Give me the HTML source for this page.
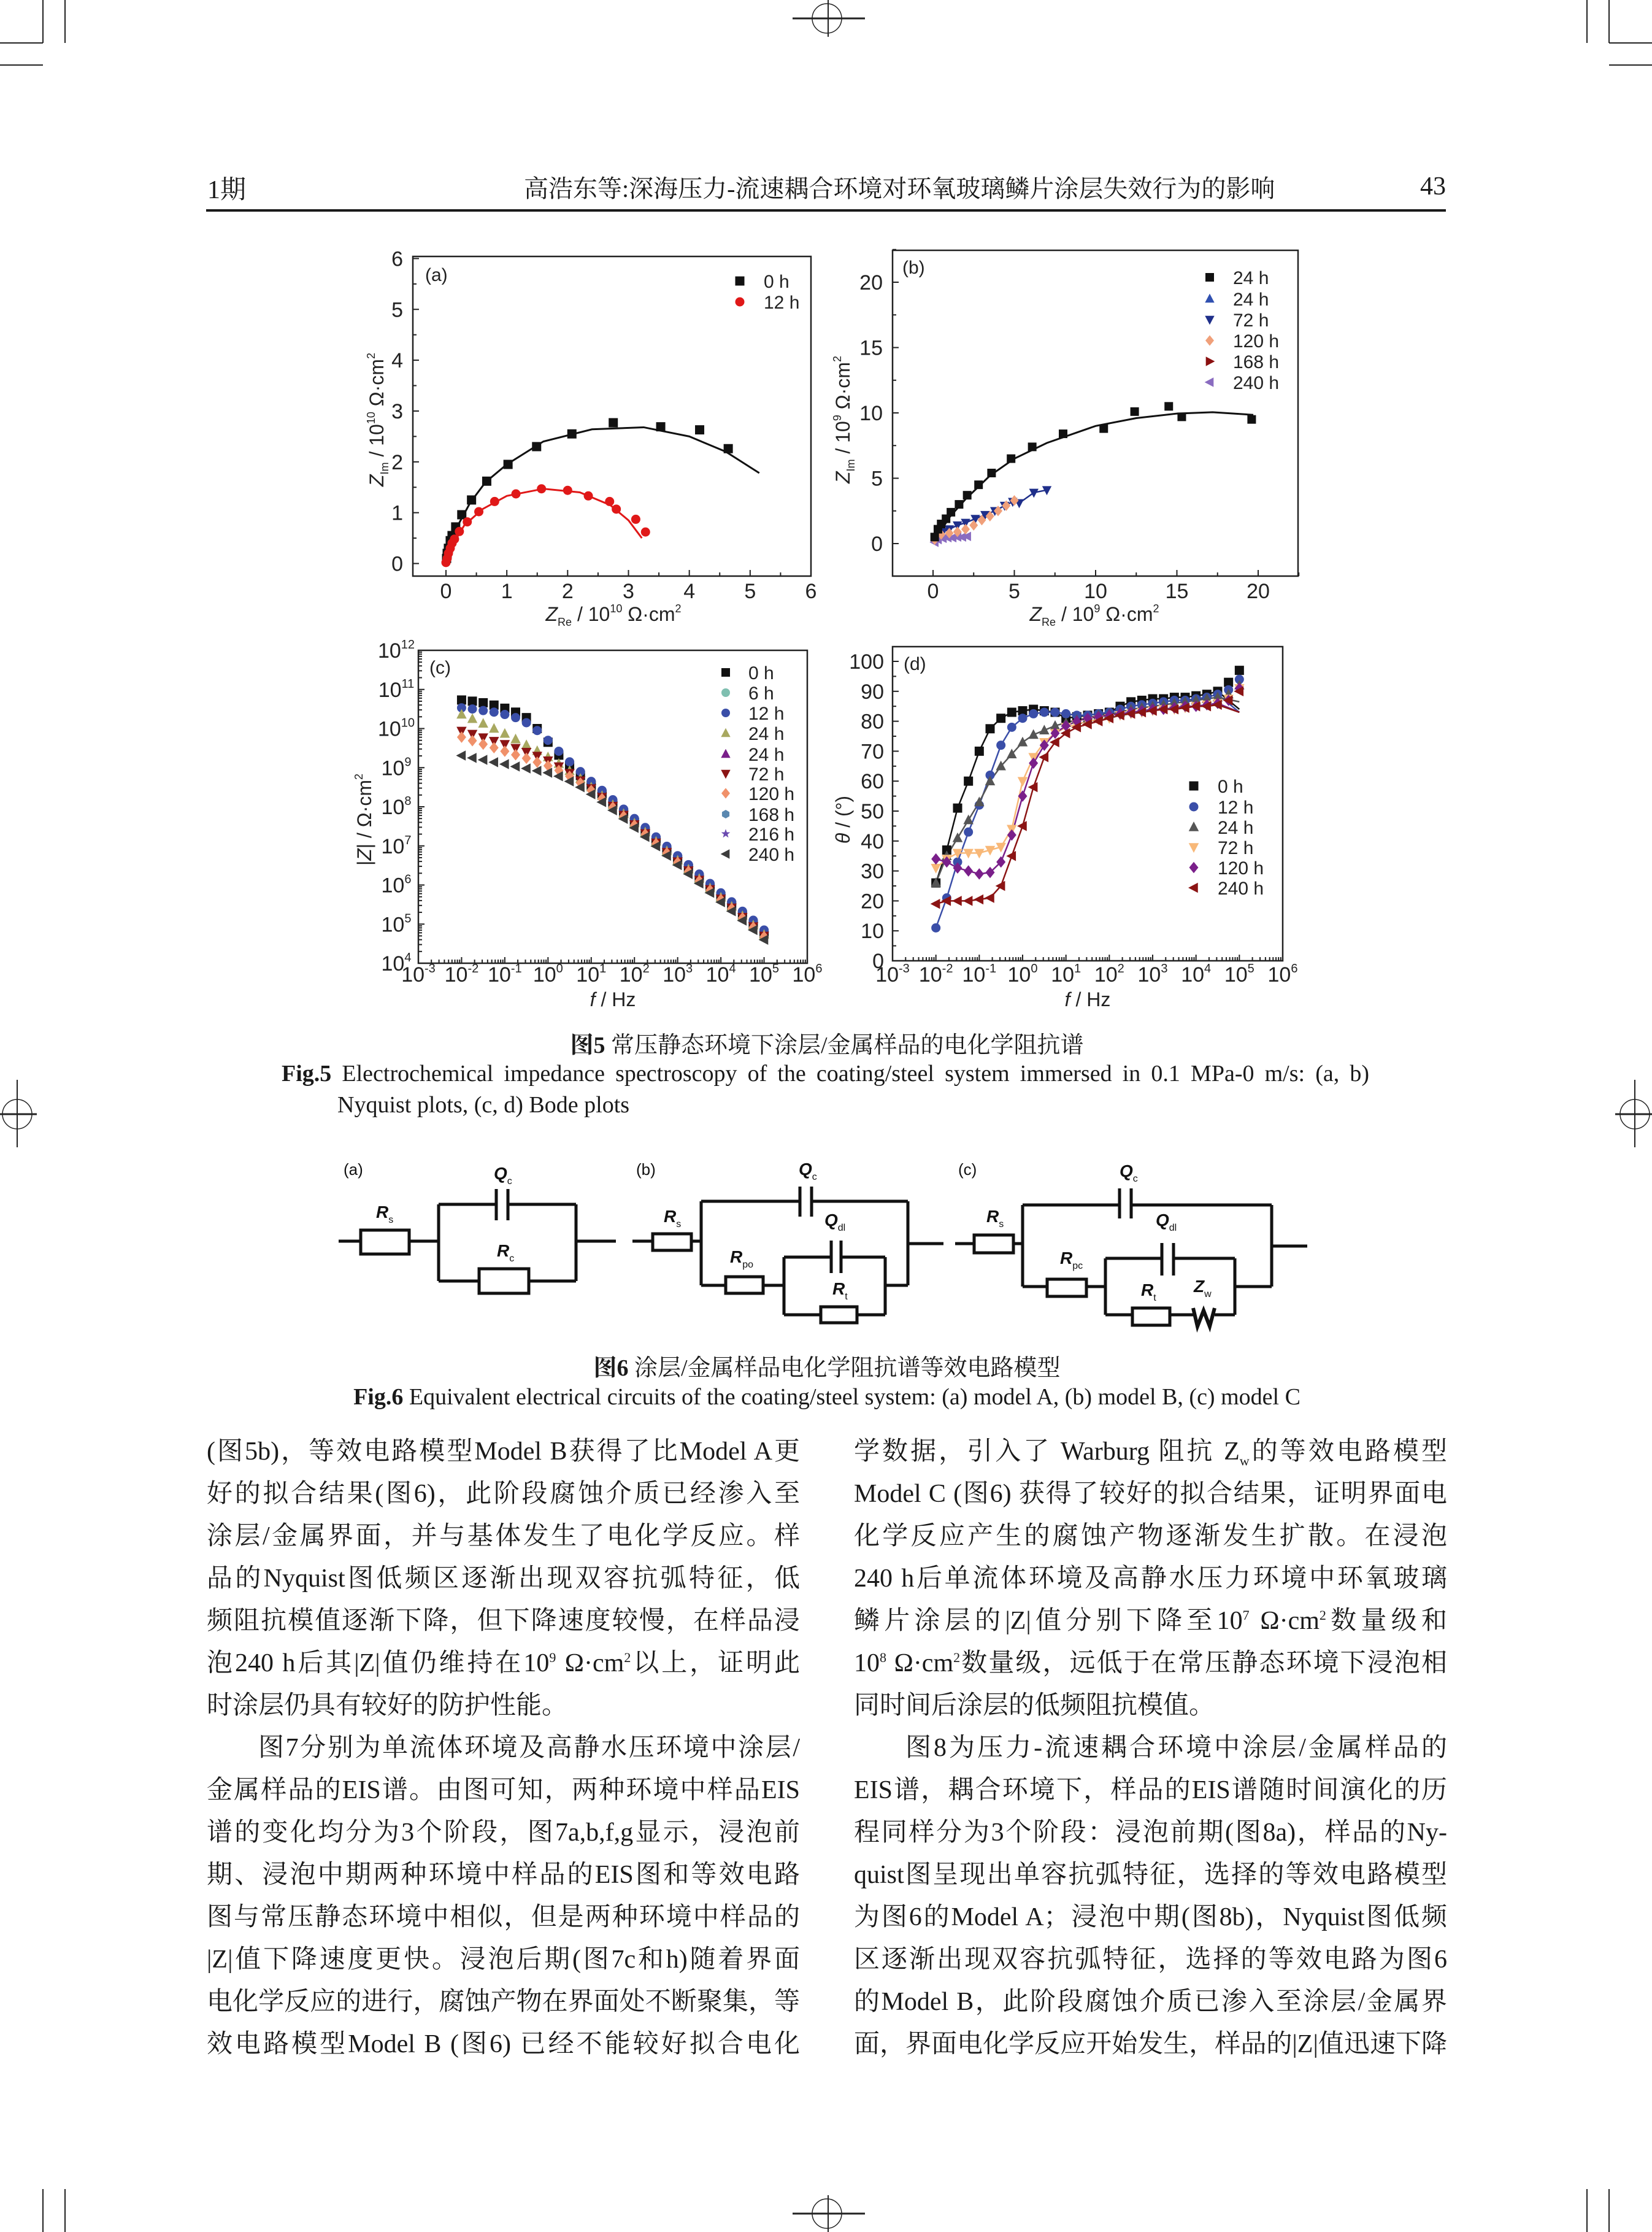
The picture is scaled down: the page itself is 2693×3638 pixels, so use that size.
<!DOCTYPE html>
<html><head><meta charset="utf-8">
<style>
html,body{margin:0;padding:0;background:#fff}
body{width:2693px;height:3638px;position:relative;overflow:hidden;color:#1a1a1a}
.t{position:absolute;white-space:nowrap;font-family:"Liberation Serif","Noto Serif CJK SC",serif}
.bl{position:absolute;height:69px;line-height:69px;font-size:42px;white-space:nowrap;text-align:justify;text-align-last:justify;font-family:"Liberation Serif","Noto Serif CJK SC",serif}
.nl{text-align-last:left}
#figs{position:absolute;left:0;top:0}
</style></head>
<body>

<svg width="2693" height="3638" style="position:absolute;left:0;top:0">
 <g stroke="#222" stroke-width="2" fill="none">
  <line x1="70" y1="0" x2="70" y2="70"/><line x1="0" y1="70" x2="70" y2="70"/>
  <line x1="106" y1="0" x2="106" y2="70"/><line x1="0" y1="106" x2="70" y2="106"/>
  <line x1="2623" y1="0" x2="2623" y2="70"/><line x1="2623" y1="70" x2="2693" y2="70"/>
  <line x1="2587" y1="0" x2="2587" y2="70"/><line x1="2623" y1="106" x2="2693" y2="106"/>
  <line x1="70" y1="3568" x2="70" y2="3638"/><line x1="106" y1="3568" x2="106" y2="3638"/>
  <line x1="2623" y1="3568" x2="2623" y2="3638"/><line x1="2587" y1="3568" x2="2587" y2="3638"/>
  <circle cx="1348" cy="30" r="24" stroke-width="1.5"/><line x1="1292" y1="30" x2="1410" y2="30" stroke-width="3"/><line x1="1350" y1="0" x2="1350" y2="60"/>
  <circle cx="1348" cy="3608" r="24" stroke-width="1.5"/><line x1="1292" y1="3608" x2="1410" y2="3608" stroke-width="3"/><line x1="1350" y1="3578" x2="1350" y2="3638"/>
  <circle cx="28" cy="1816" r="24" stroke-width="1.5"/><line x1="0" y1="1816" x2="60" y2="1816" stroke-width="3"/><line x1="28" y1="1760" x2="28" y2="1870"/>
  <circle cx="2665" cy="1816" r="24" stroke-width="1.5"/><line x1="2633" y1="1816" x2="2693" y2="1816" stroke-width="3"/><line x1="2665" y1="1760" x2="2665" y2="1870"/>
 </g>
</svg>

<div class="t" style="left:338px;top:276px;font-size:42px">1期</div>
<div class="t" style="left:854px;top:276px;width:1152px;text-align:center;font-size:40px">高浩东等:深海压力-流速耦合环境对环氧玻璃鳞片涂层失效行为的影响</div>
<div class="t" style="left:2300px;top:280px;width:57px;text-align:right;font-size:42px">43</div>
<div style="position:absolute;left:336px;top:341px;width:2021px;height:4px;background:#1a1a1a"></div>

<svg id="figs" width="2693" height="3638"></svg>

<div class="t" style="left:548px;top:1672px;width:1600px;text-align:center;font-size:38px"><b>图5</b> 常压静态环境下涂层/金属样品的电化学阻抗谱</div>
<div class="t" style="left:459px;top:1728px;width:1773px;text-align:justify;text-align-last:justify;font-size:38px"><b>Fig.5</b> Electrochemical impedance spectroscopy of the coating/steel system immersed in 0.1 MPa-0 m/s: (a, b)</div>
<div class="t" style="left:550px;top:1779px;font-size:38px">Nyquist plots, (c, d) Bode plots</div>

<svg width="2693" height="3638" style="position:absolute;left:0;top:0;pointer-events:none">
 <g fill="none" stroke="#111" stroke-width="5" font-family="Liberation Sans, sans-serif">
  <g>
   <text x="560" y="1915" font-size="26" fill="#111" stroke="none">(a)</text>
   <path d="M552 2023H588M667 2023H715M715 1963V2088M715 1963H809M828 1963H939M939 1963V2088M715 2088H781M862 2088H939M939 2023H1004"/>
   <rect x="588" y="2005" width="79" height="39"/>
   <line x1="809" y1="1938" x2="809" y2="1989"/><line x1="828" y1="1938" x2="828" y2="1989"/>
   <rect x="781" y="2068" width="81" height="40"/>
   <g fill="#111" stroke="none" font-style="italic" font-weight="bold" font-size="28">
    <text x="805" y="1922">Q<tspan font-size="16" dy="8" font-weight="normal" font-style="normal">c</tspan></text>
    <text x="613" y="1985">R<tspan font-size="16" dy="8" font-weight="normal" font-style="normal">s</tspan></text>
    <text x="810" y="2048">R<tspan font-size="16" dy="8" font-weight="normal" font-style="normal">c</tspan></text>
   </g>
  </g>
  <g>
   <text x="1037" y="1915" font-size="26" fill="#111" stroke="none">(b)</text>
   <path d="M1031 2023H1064M1127 2023H1143M1143 1958V2095M1143 1958H1304M1323 1958H1480M1480 1958V2095M1480 2027H1538M1143 2095H1183M1244 2095H1278M1278 2049V2143M1278 2049H1355M1371 2049H1443M1443 2049V2143M1278 2143H1338M1397 2143H1443M1443 2095H1480"/>
   <rect x="1064" y="2011" width="63" height="27"/>
   <line x1="1304" y1="1934" x2="1304" y2="1983"/><line x1="1323" y1="1934" x2="1323" y2="1983"/>
   <rect x="1183" y="2081" width="61" height="27"/>
   <line x1="1355" y1="2022" x2="1355" y2="2075"/><line x1="1371" y1="2022" x2="1371" y2="2075"/>
   <rect x="1338" y="2130" width="59" height="26"/>
   <g fill="#111" stroke="none" font-style="italic" font-weight="bold" font-size="28">
    <text x="1302" y="1915">Q<tspan font-size="16" dy="8" font-weight="normal" font-style="normal">c</tspan></text>
    <text x="1082" y="1992">R<tspan font-size="16" dy="8" font-weight="normal" font-style="normal">s</tspan></text>
    <text x="1344" y="1998">Q<tspan font-size="16" dy="8" font-weight="normal" font-style="normal">dl</tspan></text>
    <text x="1190" y="2058">R<tspan font-size="16" dy="8" font-weight="normal" font-style="normal">po</tspan></text>
    <text x="1357" y="2110">R<tspan font-size="16" dy="8" font-weight="normal" font-style="normal">t</tspan></text>
   </g>
  </g>
  <g>
   <text x="1562" y="1915" font-size="26" fill="#111" stroke="none">(c)</text>
   <path d="M1557 2027H1588M1652 2027H1667M1667 1964V2097M1667 1964H1825M1844 1964H2073M2073 1964V2097M2073 2031H2131M1667 2097H1707M1771 2097H1802M1802 2051V2143M1802 2051H1894M1913 2051H2013M2013 2051V2143M1802 2143H1846M1907 2143H1945M1980 2143H2013M2013 2097H2073"/>
   <rect x="1588" y="2013" width="64" height="29"/>
   <line x1="1825" y1="1937" x2="1825" y2="1986"/><line x1="1844" y1="1937" x2="1844" y2="1986"/>
   <rect x="1707" y="2085" width="64" height="28"/>
   <line x1="1894" y1="2026" x2="1894" y2="2079"/><line x1="1913" y1="2026" x2="1913" y2="2079"/>
   <rect x="1846" y="2132" width="61" height="28"/>
   <path d="M1945 2132L1952 2162L1962 2136L1972 2162L1980 2132" stroke-width="6"/>
   <g fill="#111" stroke="none" font-style="italic" font-weight="bold" font-size="28">
    <text x="1825" y="1918">Q<tspan font-size="16" dy="8" font-weight="normal" font-style="normal">c</tspan></text>
    <text x="1608" y="1992">R<tspan font-size="16" dy="8" font-weight="normal" font-style="normal">s</tspan></text>
    <text x="1884" y="1998">Q<tspan font-size="16" dy="8" font-weight="normal" font-style="normal">dl</tspan></text>
    <text x="1728" y="2060">R<tspan font-size="16" dy="8" font-weight="normal" font-style="normal">pc</tspan></text>
    <text x="1860" y="2112">R<tspan font-size="16" dy="8" font-weight="normal" font-style="normal">t</tspan></text>
    <text x="1946" y="2106">Z<tspan font-size="16" dy="8" font-weight="normal" font-style="normal">w</tspan></text>
   </g>
  </g>
 </g>
</svg>

<div class="t" style="left:548px;top:2198px;width:1600px;text-align:center;font-size:38px"><b>图6</b> 涂层/金属样品电化学阻抗谱等效电路模型</div>
<div class="t" style="left:548px;top:2255px;width:1600px;text-align:center;font-size:38px"><b>Fig.6</b> Equivalent electrical circuits of the coating/steel system: (a) model A, (b) model B, (c) model C</div>

<div>
<div class="bl" style="left:337px;top:2332px;width:967px">(图5b)，等效电路模型Model B获得了比Model A更</div>
<div class="bl" style="left:337px;top:2401px;width:967px">好的拟合结果(图6)，此阶段腐蚀介质已经渗入至</div>
<div class="bl" style="left:337px;top:2470px;width:967px">涂层/金属界面，并与基体发生了电化学反应。样</div>
<div class="bl" style="left:337px;top:2539px;width:967px">品的Nyquist图低频区逐渐出现双容抗弧特征，低</div>
<div class="bl" style="left:337px;top:2608px;width:967px">频阻抗模值逐渐下降，但下降速度较慢，在样品浸</div>
<div class="bl" style="left:337px;top:2677px;width:967px">泡240 h后其|Z|值仍维持在10<sup style="font-size:22px;line-height:0">9</sup> Ω·cm<sup style="font-size:22px;line-height:0">2</sup>以上，证明此</div>
<div class="bl nl" style="left:337px;top:2746px;width:967px">时涂层仍具有较好的防护性能。</div>
<div class="bl" style="left:421px;top:2815px;width:883px">图7分别为单流体环境及高静水压环境中涂层/</div>
<div class="bl" style="left:337px;top:2884px;width:967px">金属样品的EIS谱。由图可知，两种环境中样品EIS</div>
<div class="bl" style="left:337px;top:2953px;width:967px">谱的变化均分为3个阶段，图7a,b,f,g显示，浸泡前</div>
<div class="bl" style="left:337px;top:3022px;width:967px">期、浸泡中期两种环境中样品的EIS图和等效电路</div>
<div class="bl" style="left:337px;top:3091px;width:967px">图与常压静态环境中相似，但是两种环境中样品的</div>
<div class="bl" style="left:337px;top:3160px;width:967px">|Z|值下降速度更快。浸泡后期(图7c和h)随着界面</div>
<div class="bl" style="left:337px;top:3229px;width:967px">电化学反应的进行，腐蚀产物在界面处不断聚集，等</div>
<div class="bl" style="left:337px;top:3298px;width:967px">效电路模型Model B (图6) 已经不能较好拟合电化</div>
</div>
<div>
<div class="bl" style="left:1392px;top:2332px;width:967px">学数据，引入了 Warburg 阻抗 Z<sub style="font-size:22px;line-height:0">w</sub>的等效电路模型</div>
<div class="bl" style="left:1392px;top:2401px;width:967px">Model C (图6) 获得了较好的拟合结果，证明界面电</div>
<div class="bl" style="left:1392px;top:2470px;width:967px">化学反应产生的腐蚀产物逐渐发生扩散。在浸泡</div>
<div class="bl" style="left:1392px;top:2539px;width:967px">240 h后单流体环境及高静水压力环境中环氧玻璃</div>
<div class="bl" style="left:1392px;top:2608px;width:967px">鳞片涂层的|Z|值分别下降至10<sup style="font-size:22px;line-height:0">7</sup> Ω·cm<sup style="font-size:22px;line-height:0">2</sup>数量级和</div>
<div class="bl" style="left:1392px;top:2677px;width:967px">10<sup style="font-size:22px;line-height:0">8</sup> Ω·cm<sup style="font-size:22px;line-height:0">2</sup>数量级，远低于在常压静态环境下浸泡相</div>
<div class="bl nl" style="left:1392px;top:2746px;width:967px">同时间后涂层的低频阻抗模值。</div>
<div class="bl" style="left:1476px;top:2815px;width:883px">图8为压力-流速耦合环境中涂层/金属样品的</div>
<div class="bl" style="left:1392px;top:2884px;width:967px">EIS谱，耦合环境下，样品的EIS谱随时间演化的历</div>
<div class="bl" style="left:1392px;top:2953px;width:967px">程同样分为3个阶段：浸泡前期(图8a)，样品的Ny-</div>
<div class="bl" style="left:1392px;top:3022px;width:967px">quist图呈现出单容抗弧特征，选择的等效电路模型</div>
<div class="bl" style="left:1392px;top:3091px;width:967px">为图6的Model A；浸泡中期(图8b)，Nyquist图低频</div>
<div class="bl" style="left:1392px;top:3160px;width:967px">区逐渐出现双容抗弧特征，选择的等效电路为图6</div>
<div class="bl" style="left:1392px;top:3229px;width:967px">的Model B，此阶段腐蚀介质已渗入至涂层/金属界</div>
<div class="bl" style="left:1392px;top:3298px;width:967px">面，界面电化学反应开始发生，样品的|Z|值迅速下降</div>
</div>

<script>
// ---------- Panel (a) data ----------
const aRe0=[0.01,0.02,0.04,0.07,0.1,0.16,0.26,0.42,0.67,1.02,1.49,2.07,2.75,3.53,4.17,4.64];
const aIm0=[0.1,0.2,0.3,0.45,0.55,0.72,0.96,1.25,1.62,1.95,2.3,2.55,2.77,2.69,2.63,2.26];
const aFitRe0=[0,0.05,0.15,0.4,0.65,1.0,1.6,2.4,3.25,4.0,4.6,5.15];
const aFitIm0=[0,0.35,0.65,1.2,1.6,1.95,2.4,2.64,2.68,2.5,2.2,1.78];
const aRe12=[0.0,0.02,0.04,0.07,0.1,0.14,0.22,0.35,0.54,0.8,1.15,1.57,2.0,2.34,2.69,2.8,3.12,3.28];
const aIm12=[0.02,0.1,0.2,0.3,0.4,0.48,0.63,0.82,1.02,1.22,1.37,1.47,1.44,1.33,1.22,1.07,0.87,0.62];
const aFitRe12=[0,0.1,0.3,0.6,1.0,1.6,2.2,2.7,3.0,3.22];
const aFitIm12=[0,0.35,0.75,1.07,1.33,1.47,1.4,1.15,0.85,0.5];
const aTicks=[0,1,2,3,4,5,6];
// ---------- Panel (b) data ----------
const bRe24=[0.1,0.3,0.5,0.8,1.1,1.6,2.1,2.8,3.6,4.8,6.1,8.0,10.5,12.4,14.5,15.3,19.6];
const bIm24=[0.5,1.1,1.5,1.9,2.4,3.0,3.7,4.5,5.4,6.5,7.4,8.4,8.8,10.1,10.5,9.7,9.5];
const bFitRe24=[0,1,2,3.5,5,7,10,12.5,15,17.2,19.7];
const bFitIm24=[0,2,3.4,5.2,6.5,7.7,9,9.6,9.95,10.05,9.85];
const bRe72=[0.2,0.6,1.0,1.5,2.0,2.6,3.2,3.8,4.4,4.9,5.3,6.2,7.0];
const bIm72=[0.5,0.9,1.1,1.4,1.6,1.9,2.2,2.5,2.9,3.2,3.1,3.9,4.1];
const bRe120=[0.1,0.5,1.0,1.5,2.0,2.5,3.0,3.5,4.0,4.5,5.0];
const bIm120=[0.3,0.7,0.8,0.9,1.1,1.4,1.8,2.1,2.5,2.9,3.3];
const bRe240=[0.1,0.3,0.6,0.9,1.2,1.5,1.8,2.1];
const bIm240=[0.1,0.3,0.4,0.45,0.45,0.5,0.5,0.55];
const bXTicks=[0,5,10,15,20];
const bYTicks=[0,5,10,15,20];
// ---------- Panel (c)/(d) shared frequency exponents ----------
const logF=[-2,-1.75,-1.5,-1.25,-1,-0.75,-0.5,-0.25,0,0.25,0.5,0.75,1,1.25,1.5,1.75,2,2.25,2.5,2.75,3,3.25,3.5,3.75,4,4.25,4.5,4.75,5];
// |Z| (log10) panel c
const cZ0=[10.73,10.7,10.66,10.6,10.52,10.42,10.28,10.0,9.65,9.32,9.05,8.8,8.55,8.32,8.08,7.84,7.6,7.37,7.13,6.89,6.65,6.42,6.18,5.94,5.7,5.47,5.23,5.0,4.75];
const cZ12=[10.53,10.5,10.46,10.42,10.36,10.28,10.15,9.95,9.7,9.42,9.15,8.9,8.65,8.42,8.18,7.94,7.7,7.47,7.23,6.99,6.75,6.52,6.28,6.04,5.8,5.57,5.33,5.1,4.85];
const cZ24=[10.36,10.25,10.13,10.0,9.87,9.73,9.58,9.43,9.27,9.1,8.92,8.72,8.5,8.28,8.05,7.82,7.58,7.35,7.11,6.87,6.63,6.4,6.16,5.92,5.68,5.45,5.21,4.97,4.73];
const cZ72=[9.94,9.86,9.77,9.68,9.6,9.5,9.4,9.3,9.18,9.03,8.86,8.67,8.47,8.25,8.02,7.79,7.55,7.32,7.08,6.84,6.6,6.37,6.13,5.89,5.65,5.42,5.18,4.94,4.7];
const cZ120=[9.78,9.69,9.6,9.51,9.42,9.33,9.24,9.14,9.05,8.93,8.78,8.61,8.42,8.21,7.99,7.76,7.53,7.3,7.06,6.82,6.58,6.35,6.11,5.87,5.63,5.4,5.16,4.92,4.68];
const cZ240=[9.31,9.25,9.2,9.14,9.09,9.03,8.98,8.92,8.87,8.78,8.65,8.5,8.32,8.12,7.91,7.69,7.46,7.23,6.99,6.75,6.51,6.28,6.04,5.8,5.56,5.33,5.09,4.85,4.6];
const cLegend=["0 h","6 h","12 h","24 h","24 h","72 h","120 h","168 h","216 h","240 h"];
// phase panel d
const dP0=[26,37,51,60,70,77.5,81,83,83.5,84,83.5,83,81,81.5,82,82.5,83,85,86.5,87,87.5,87.5,88,88,88.5,89,90,93,97];
const dP12=[11,21,33,43,52,62,72,78,81,82.5,83,83,82.5,82,82,82.5,83,84,85,85.5,86,86.5,87,87,87.5,88,89,90.5,94];
const dP24=[26,35,41,47,53,60,65,69,73,75.5,77,78.5,79.5,80.5,81,82,82.5,83,84,84.5,85,85.5,86,86.5,87,87.5,88,89,92];
const dP72=[31,34,36,36,36,37,38,44,60,68,73,76,78,79,80,80.5,81,82,82.5,83,83.5,84,84,84.5,85,85.5,86,87.5,91];
const dP120=[34,33,31,30,29,29.5,33,42,55,66,72,76,78.5,80,81,81.5,82,82.5,83,83.5,84,84,84.5,85,85,85.5,86,87,91];
const dP240=[19,20,20,20,20.5,21,25,35,45,58,68,73,76,78,79,80,81,82,82.5,83,83.5,84,84,84.5,85,85,85.5,87,90];
const dFitEnd=[84,83,86.5,83,83,83];
const dLegend=["0 h","12 h","24 h","72 h","120 h","240 h"];
const dYTicks=[0,10,20,30,40,50,60,70,80,90,100];
const decTicks=[-3,-2,-1,0,1,2,3,4,5,6];
const cYTicks=[4,5,6,7,8,9,10,11,12];

const NS='http://www.w3.org/2000/svg';
const svg=document.getElementById('figs');
function mk(tag,parent,a){const e=document.createElementNS(NS,tag);for(const k in a)e.setAttribute(k,a[k]);parent.appendChild(e);return e;}
function lin(d0,d1,p0,p1){return v=>p0+(v-d0)*(p1-p0)/(d1-d0);}
function marker(p,type,x,y,s,c){
  let e;const h=s/2;
  if(type==='square')e=mk('rect',p,{x:x-h,y:y-h,width:s,height:s,fill:c});
  else if(type==='circle')e=mk('circle',p,{cx:x,cy:y,r:h,fill:c});
  else{let pts;
    if(type==='up')pts=[[x,y-s*.6],[x+s*.55,y+s*.45],[x-s*.55,y+s*.45]];
    else if(type==='down')pts=[[x,y+s*.6],[x+s*.55,y-s*.45],[x-s*.55,y-s*.45]];
    else if(type==='diamond')pts=[[x,y-s*.62],[x+s*.5,y],[x,y+s*.62],[x-s*.5,y]];
    else if(type==='right')pts=[[x-s*.45,y-s*.55],[x+s*.6,y],[x-s*.45,y+s*.55]];
    else if(type==='left')pts=[[x+s*.45,y-s*.55],[x-s*.6,y],[x+s*.45,y+s*.55]];
    else if(type==='hex'){pts=[];for(let i=0;i<6;i++){const a=Math.PI/3*i+Math.PI/6;pts.push([x+h*Math.cos(a),y+h*Math.sin(a)]);}}
    else {pts=[];for(let i=0;i<10;i++){const r=i%2?h*0.45:h*1.1,a=-Math.PI/2+Math.PI/5*i;pts.push([x+r*Math.cos(a),y+r*Math.sin(a)]);}}
    e=mk('polygon',p,{points:pts.map(q=>q.join(',')).join(' '),fill:c});}
  return e;
}
function frame(g,b){
  const r=mk('rect',g,{x:b.l,y:b.t,width:b.r-b.l,height:b.b-b.t,fill:'none',stroke:'#222','stroke-width':2.5});
  
  
}
function txt(g,x,y,s,size,anchor,extra){const t=mk('text',g,Object.assign({x:x,y:y,'font-size':size,'text-anchor':anchor||'middle','font-family':'Liberation Sans, sans-serif',fill:'#222'},extra||{}));t.textContent=s;return t;}
function tick(g,x1,y1,x2,y2){mk('line',g,{x1:x1,y1:y1,x2:x2,y2:y2,stroke:'#222','stroke-width':2});}
function poly(g,xs,ys,X,Y,c,w){return mk('polyline',g,{points:X.map((v,i)=>xs(v)+','+ys(Y[i])).join(' '),fill:'none',stroke:c,'stroke-width':w||3});}
function pow10(g,x,y,e){const t=mk('text',g,{x:x,y:y,'font-size':34,'text-anchor':'middle','font-family':'Liberation Sans, sans-serif',fill:'#222'});
  const a=mk('tspan',t,{});a.textContent='10';const b=mk('tspan',t,{'font-size':20,dy:-15});b.textContent=String(e);return t;}
function ylab(g,x,y,parts){const t=mk('text',g,{x:0,y:0,'font-size':32,'text-anchor':'middle','font-family':'Liberation Sans, sans-serif',fill:'#222',transform:'translate('+x+','+y+') rotate(-90)'});
  parts.forEach(p=>{const s=mk('tspan',t,p[1]||{});s.textContent=p[0];});return t;}

// ===== Panel a =====
{
const g=mk('g',svg,{});


const b={l:673,r:1322,t:418,b:939};
const xs=lin(0,6,727,1322), ys=lin(0,6,918.5,421.4);
frame(g,b);
aTicks.forEach(v=>{tick(g,xs(v),b.b,xs(v),b.b-10);tick(g,b.l,ys(v),b.l+10,ys(v));
  if(v<6){tick(g,xs(v+.5),b.b,xs(v+.5),b.b-6);tick(g,b.l,ys(v+.5),b.l+6,ys(v+.5));}
  const tx=txt(g,xs(v),975,String(v),34);
  const ty=txt(g,b.l-16,ys(v)+12,String(v),34,'end');});
const f0=poly(g,xs,ys,aFitRe0,aFitIm0,'#111');
const f12=poly(g,xs,ys,aFitRe12,aFitIm12,'#e01818');
aRe0.forEach((v,i)=>{const m=marker(g,'square',xs(v),ys(aIm0[i]),15,'#111');});
aRe12.forEach((v,i)=>{const m=marker(g,'circle',xs(v),ys(aIm12[i]),15,'#e01818');});
const pl=txt(g,b.l+20,b.t+40,'(a)',30,'start');
let m=marker(g,'square',1206,458,15,'#111');
let t=txt(g,1245,469,'0 h',30,'start');
m=marker(g,'circle',1206,492,15,'#e01818');
t=txt(g,1245,503,'12 h',30,'start');
t=ylab(g,625,684,[['Z',{'font-style':'italic'}],['Im',{'font-size':18,dy:8}],[' / 10',{dy:-8}],['10',{'font-size':18,dy:-14}],[' Ω·cm',{dy:14}],['2',{'font-size':18,dy:-14}]]);

t=mk('text',g,{x:1000,y:1012,'font-size':32,'text-anchor':'middle','font-family':'Liberation Sans, sans-serif',fill:'#222'});
[['Z',{'font-style':'italic'}],['Re',{'font-size':18,dy:8}],[' / 10',{dy:-8}],['10',{'font-size':18,dy:-14}],[' Ω·cm',{dy:14}],['2',{'font-size':18,dy:-14}]].forEach(p=>{const s=mk('tspan',t,p[1]);s.textContent=p[0];});

}
// ===== Panel b =====
{
const g=mk('g',svg,{});


const b={l:1455,r:2116,t:408,b:939};
const xs=lin(0,20,1521,2051), ys=lin(0,20,886,460);
frame(g,b);
bXTicks.forEach(v=>{tick(g,xs(v),b.b,xs(v),b.b-10);tick(g,xs(v+2.5),b.b,xs(v+2.5),b.b-6);
  const tx=txt(g,xs(v),975,String(v),34);});
bYTicks.forEach(v=>{tick(g,b.l,ys(v),b.l+10,ys(v));tick(g,b.l,ys(v+2.5),b.l+6,ys(v+2.5));
  const ty=txt(g,b.l-16,ys(v)+12,String(v),34,'end');});
const f=poly(g,xs,ys,bFitRe24,bFitIm24,'#111');
const f72=poly(g,xs,ys,bRe72,bIm72,'#1f2f8a',2.5);
bRe240.forEach((v,i)=>{const m=marker(g,'left',xs(v),ys(bIm240[i]),14,'#8a6cc0');});
bRe72.forEach((v,i)=>{const m=marker(g,'down',xs(v),ys(bIm72[i]),14,'#1f2f8a');});
bRe120.forEach((v,i)=>{const m=marker(g,'diamond',xs(v),ys(bIm120[i]),14,'#f0a07a');});
bRe24.forEach((v,i)=>{const m=marker(g,'square',xs(v),ys(bIm24[i]),14,'#111');});
const pl=txt(g,b.l+16,b.t+38,'(b)',30,'start');
const bl=[['square','#111','24 h'],['up','#3050b0','24 h'],['down','#1f2f8a','72 h'],['diamond','#f0a07a','120 h'],['right','#8b1010','168 h'],['left','#8a6cc0','240 h']];
const by=[452,487,521,555,589,623];
bl.forEach((L,i)=>{const m=marker(g,L[0],1972,by[i],14,L[1]);
  const t=txt(g,2010,by[i]+11,L[2],30,'start');});
let t=ylab(g,1385,684,[['Z',{'font-style':'italic'}],['Im',{'font-size':18,dy:8}],[' / 10',{dy:-8}],['9',{'font-size':18,dy:-14}],[' Ω·cm',{dy:14}],['2',{'font-size':18,dy:-14}]]);

t=mk('text',g,{x:1784,y:1012,'font-size':32,'text-anchor':'middle','font-family':'Liberation Sans, sans-serif',fill:'#222'});
[['Z',{'font-style':'italic'}],['Re',{'font-size':18,dy:8}],[' / 10',{dy:-8}],['9',{'font-size':18,dy:-14}],[' Ω·cm',{dy:14}],['2',{'font-size':18,dy:-14}]].forEach(p=>{const s=mk('tspan',t,p[1]);s.textContent=p[0];});

}
function logXTicks(g,b,xs){
  decTicks.forEach(d=>{tick(g,xs(d),b.b,xs(d),b.b-10);
    const t=pow10(g,xs(d),1600,d);
    if(d<6)for(let k=2;k<10;k++){const x=xs(d+Math.log10(k));tick(g,x,b.b,x,b.b-6);}});
}
// ===== Panel c =====
{
const g=mk('g',svg,{});


const b={l:682,r:1316,t:1060,b:1570};
const xs=lin(-3,6,682,1316), ys=lin(4,12,1570,1060);
frame(g,b);
logXTicks(g,b,xs);
cYTicks.forEach(d=>{tick(g,b.l,ys(d),b.l+10,ys(d));
  const t=pow10(g,b.l-36,ys(d)+12,d);
  if(d<12)for(let k=2;k<10;k++){const y=ys(d+Math.log10(k));tick(g,b.l,y,b.l+6,y);}});
const S=[[cZ0,'square','#111','0h'],[cZ12,'circle','#3a4ea8','12h'],[cZ24,'up','#a8a860','24h'],[cZ72,'down','#8b1414','72h'],[cZ120,'diamond','#f0916a','120h'],[cZ240,'left','#3c3c3c','240h']];
S.forEach(s=>{logF.forEach((f,i)=>{const m=marker(g,s[1],xs(f),ys(s[0][i]),15,s[2]);});});
const pl=txt(g,b.l+18,b.t+38,'(c)',30,'start');
const lm=[['square','#111'],['circle','#7fbfb0'],['circle','#3a4ea8'],['up','#a8a860'],['up','#7a1f8a'],['down','#8b1414'],['diamond','#f0916a'],['hex','#5a88b0'],['star','#6a4ab0'],['left','#3c3c3c']];
const ly=[1096,1129,1162,1195,1229,1261,1293,1327,1359,1392];
cLegend.forEach((L,i)=>{const m=marker(g,lm[i][0],1183,ly[i],14,lm[i][1]);
  const t=txt(g,1220,ly[i]+11,L,30,'start');});
let t=ylab(g,605,1336,[['|',{}],['Z',{'font-style':'italic'}],['| / Ω·cm',{}],['2',{'font-size':18,dy:-14}]]);

t=mk('text',g,{x:999,y:1640,'font-size':32,'text-anchor':'middle','font-family':'Liberation Sans, sans-serif',fill:'#222'});
[['f',{'font-style':'italic'}],[' / Hz',{}]].forEach(p=>{const s=mk('tspan',t,p[1]);s.textContent=p[0];});

}
// ===== Panel d =====
{
const g=mk('g',svg,{});


const b={l:1455,r:2091,t:1054,b:1566};
const xs=lin(-3,6,1455,2091), ys=lin(0,100,1566,1078);
frame(g,b);
logXTicks(g,b,xs);
dYTicks.forEach(v=>{tick(g,b.l,ys(v),b.l+10,ys(v));if(v<100)tick(g,b.l,ys(v+5),b.l+6,ys(v+5));
  const t=txt(g,b.l-14,ys(v)+12,String(v),34,'end');});
const S=[[dP0,'square','#111','0h'],[dP12,'circle','#3a4ea8','12h'],[dP24,'up','#555','24h'],[dP72,'down','#f8b878','72h'],[dP120,'diamond','#7a1f8a','120h'],[dP240,'left','#8b1414','240h']];
S.forEach((s,j)=>{
  const X=logF.filter(f=>f<=4.5), Y=s[0].slice(0,X.length);
  X.push(5);Y.push(dFitEnd[j]);
  const l=poly(g,xs,ys,X,Y,s[2],2.5);});
S.forEach(s=>{logF.forEach((f,i)=>{const m=marker(g,s[1],xs(f),ys(s[0][i]),15,s[2]);});});
const pl=txt(g,b.l+18,b.t+38,'(d)',30,'start');
const ly=[1281,1315,1348,1381,1414,1447];
dLegend.forEach((L,i)=>{const m=marker(g,S[i][1],1946,ly[i],15,S[i][2]);
  const t=txt(g,1985,ly[i]+11,L,30,'start');});
let t=ylab(g,1385,1336,[['θ',{'font-style':'italic'}],[' / (°)',{}]]);

t=mk('text',g,{x:1773,y:1640,'font-size':32,'text-anchor':'middle','font-family':'Liberation Sans, sans-serif',fill:'#222'});
[['f',{'font-style':'italic'}],[' / Hz',{}]].forEach(p=>{const s=mk('tspan',t,p[1]);s.textContent=p[0];});

}
</script>
</body></html>
